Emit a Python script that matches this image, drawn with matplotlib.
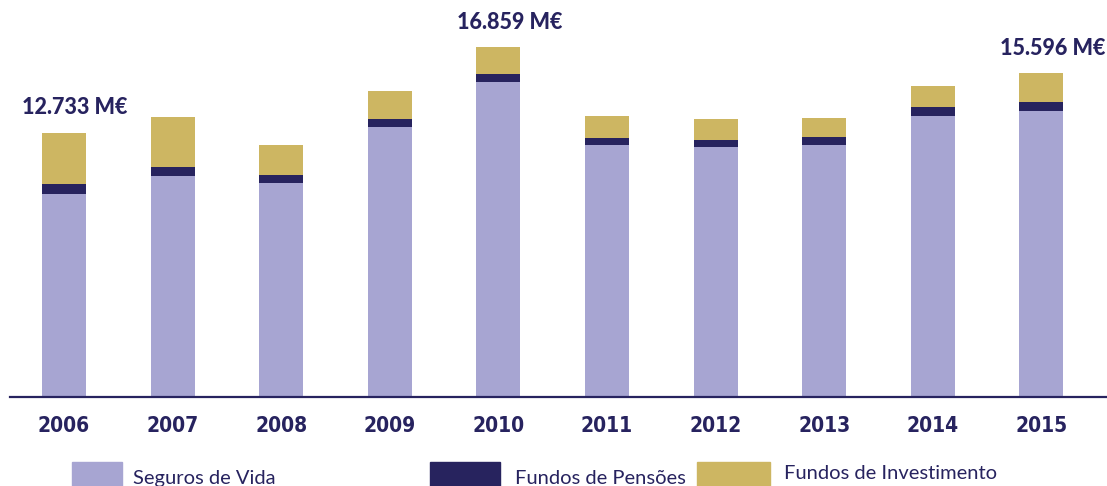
import matplotlib.pyplot as plt
from matplotlib.patches import Rectangle

# values in M€
years = ['2006', '2007', '2008', '2009', '2010', '2011', '2012', '2013', '2014', '2015']
seguros_vida = [9779, 10631, 10308, 12991, 15188, 12124, 12043, 12140, 13536, 13777]
fundos_pensoes = [467, 462, 400, 400, 385, 352, 352, 366, 419, 434]
fundos_invest = [2487, 2409, 1431, 1349, 1286, 1060, 983, 949, 1026, 1385]
total_labels = {0: '12.733 M€', 4: '16.859 M€', 9: '15.596 M€'}

c_vida = '#a7a5d2'
c_pens = '#27235e'
c_inv = '#cdb662'
navy = '#27235f'

W, H = 1107, 486
fig = plt.figure(figsize=(W / 100, H / 100), dpi=100)
# axes bottom = baseline (y=397 px), spans full height above
ax = fig.add_axes([10 / W, 1 - 397 / H, 1 - 10 / W, 397 / H])

x = list(range(len(years)))
width = 0.405
bottom2 = [a + b for a, b in zip(seguros_vida, fundos_pensoes)]
ax.bar(x, seguros_vida, width, color=c_vida)
ax.bar(x, fundos_pensoes, width, bottom=seguros_vida, color=c_pens)
ax.bar(x, fundos_invest, width, bottom=bottom2, color=c_inv)

px = 48.17  # M€ per pixel
ax.set_ylim(0, 397 * px)
ax.set_xlim((10 - 64) / 108.6, (1107 - 64) / 108.6)

for i, txt in total_labels.items():
    tot = seguros_vida[i] + fundos_pensoes[i] + fundos_invest[i]
    ax.text(i + 0.1, tot + 25 * px, txt, ha='center', va='center',
            fontsize=15.5, fontweight='black', color=navy, family=['Lato', 'DejaVu Sans'])

for s in ['top', 'right', 'left']:
    ax.spines[s].set_visible(False)
ax.spines['bottom'].set_color(navy)
ax.spines['bottom'].set_linewidth(1.6)
ax.set_yticks([])
ax.set_xticks(x)
ax.set_xticklabels(years, fontsize=15, fontweight='bold', color=navy,
                   fontstretch='condensed', family=['DejaVu Sans'])
ax.tick_params(axis='x', length=0, pad=14)

# legend drawn at the bottom edge
legend = [(72, 122, c_vida, 133, 'Seguros de Vida', 478),
          (430, 500, c_pens, 515, 'Fundos de Pensões', 478),
          (697, 770, c_inv, 784, 'Fundos de Investimento', 473)]
for x0, x1, col, tx, label, ty in legend:
    fig.add_artist(Rectangle((x0 / W, 0), (x1 - x0) / W, 24 / H,
                             transform=fig.transFigure, color=col))
    fig.text(tx / W, 1 - ty / H, label, fontsize=14.5, color=navy, va='center',
             family=['Lato', 'DejaVu Sans'])

fig.savefig('out.png', dpi=100)
